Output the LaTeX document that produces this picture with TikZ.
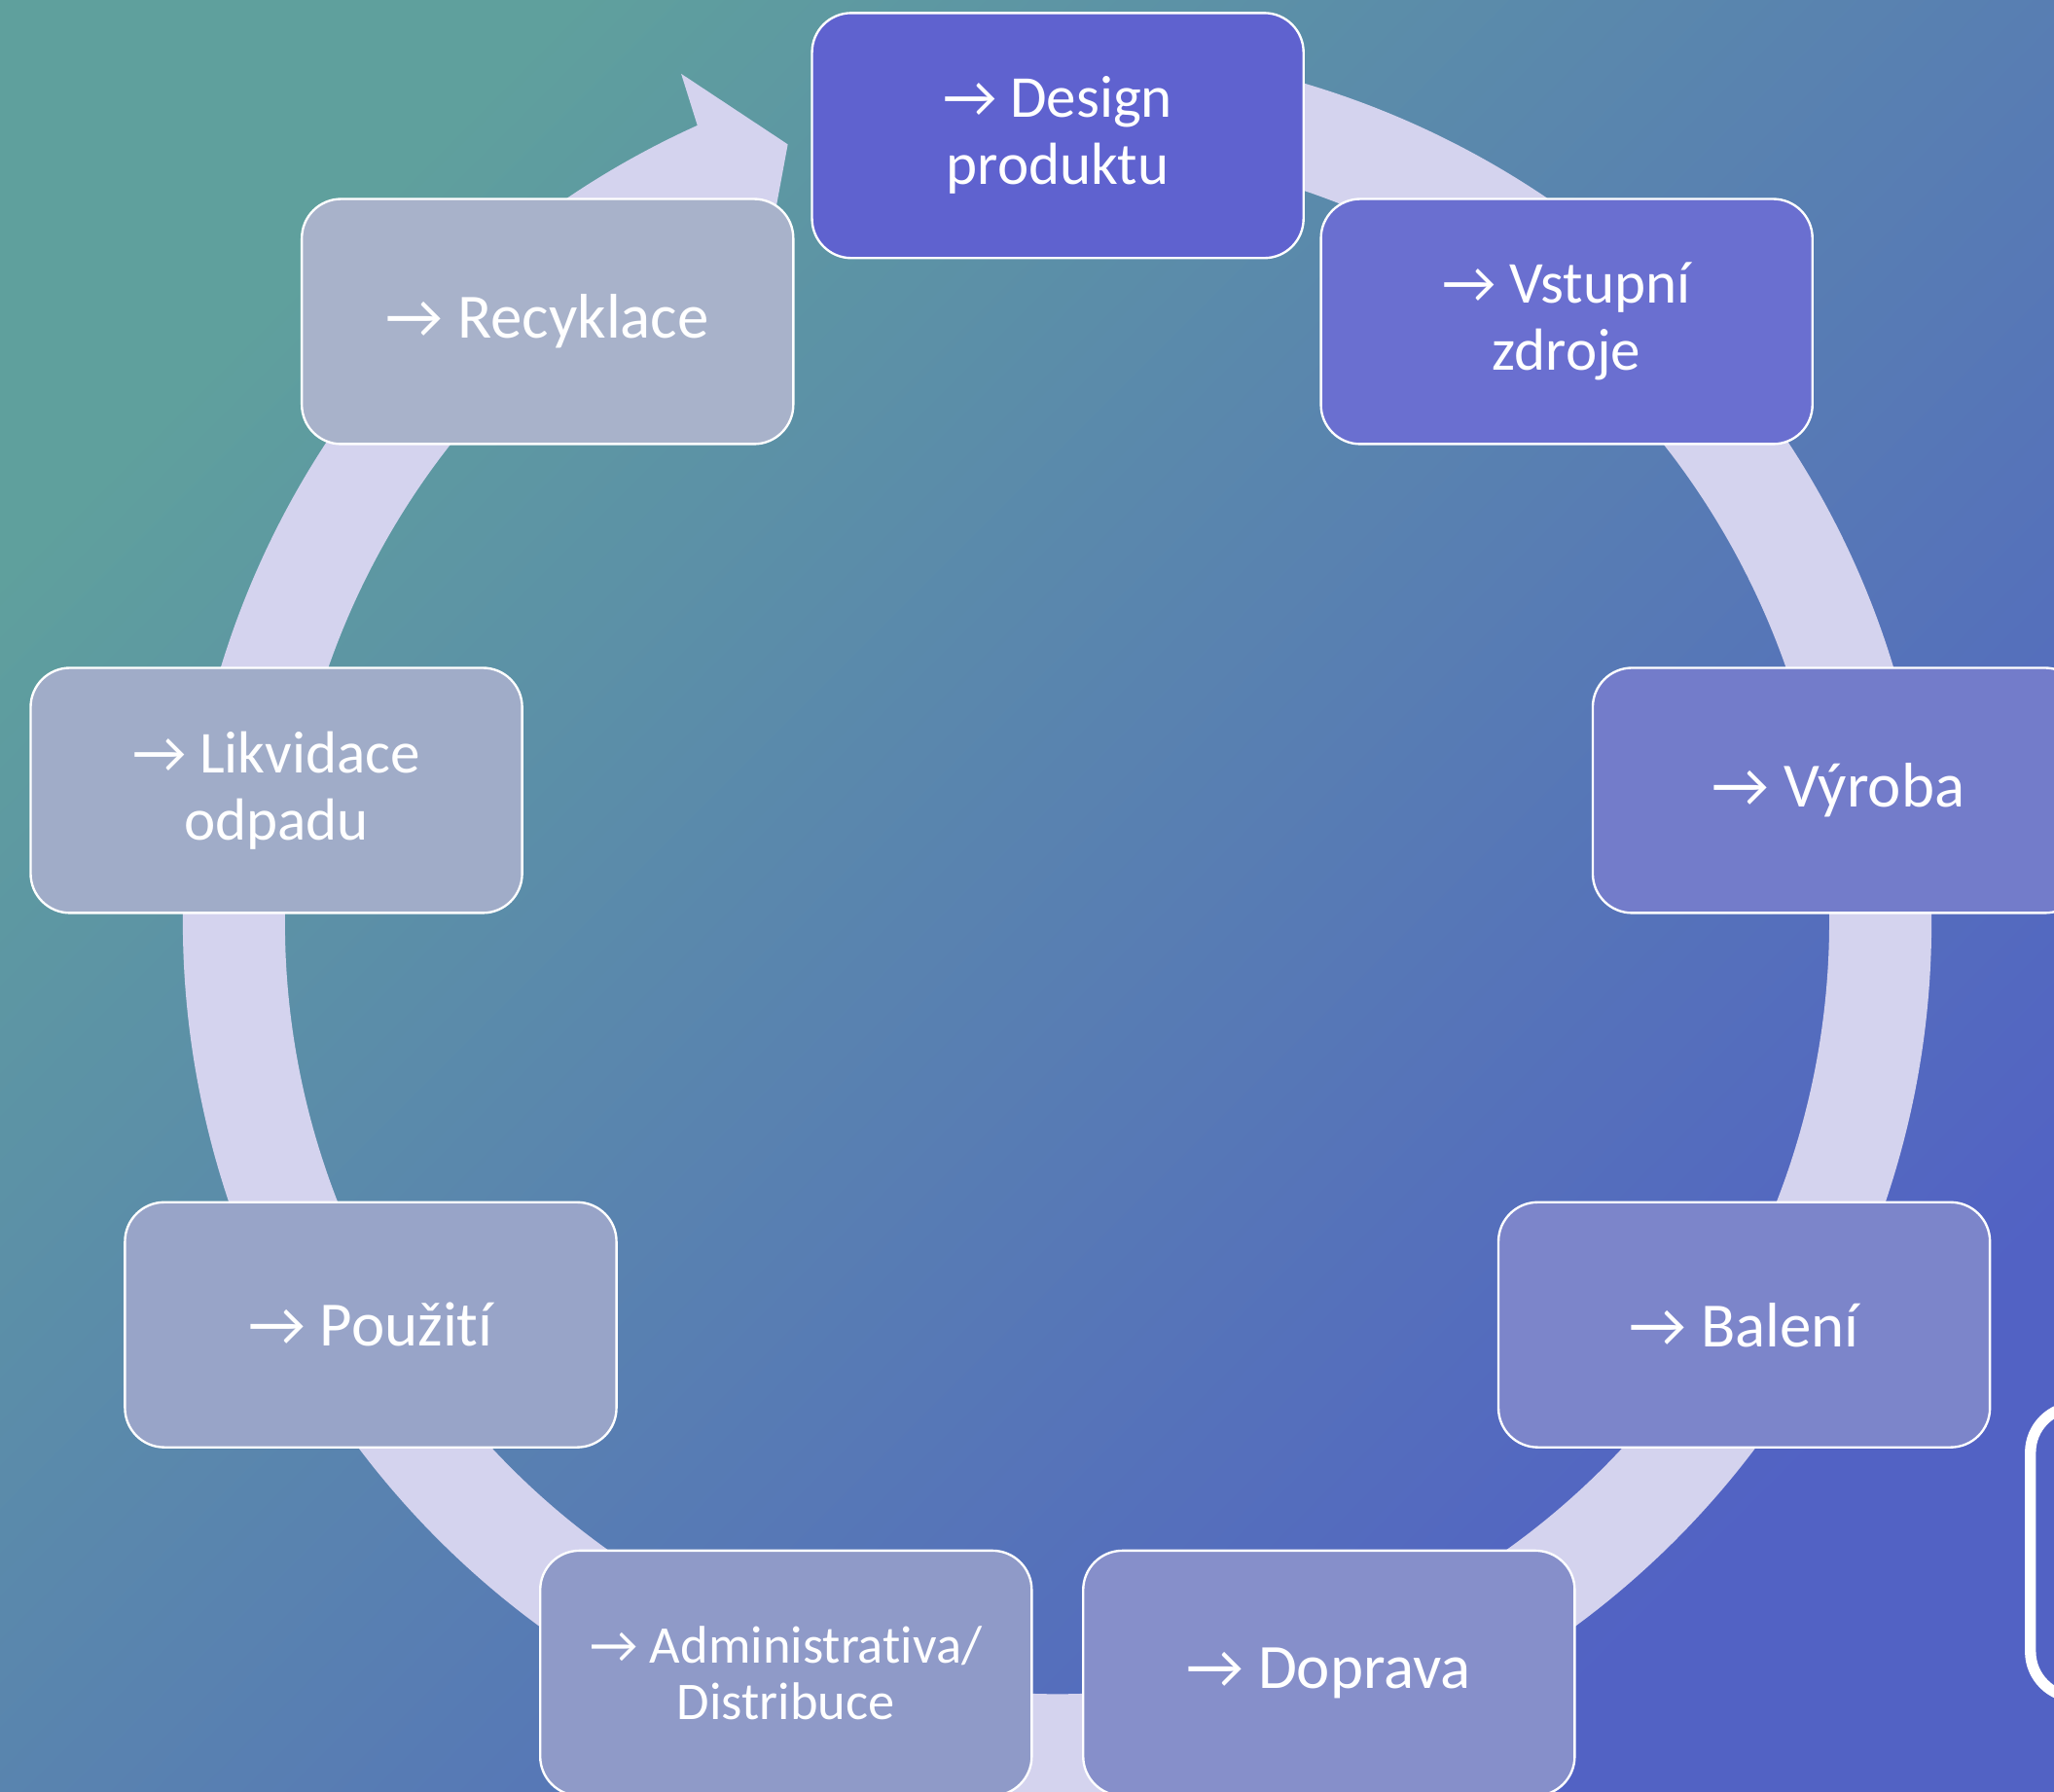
\documentclass[tikz,border=0pt]{standalone}
\usepackage{fontspec}
\setmainfont{Carlito}[Ligatures=NoCommon]
\definecolor{ringc}{HTML}{D4D3EE}
\definecolor{cA}{HTML}{5F62CF}
\definecolor{cB}{HTML}{6A6FD0}
\definecolor{cC}{HTML}{737CCA}
\definecolor{cD}{HTML}{7C85CA}
\definecolor{cE}{HTML}{868FCA}
\definecolor{cF}{HTML}{8F9AC8}
\definecolor{cG}{HTML}{98A4C8}
\definecolor{cH}{HTML}{A0ACC8}
\definecolor{cI}{HTML}{A8B2CA}
\definecolor{bgUL}{HTML}{5FA09D}
\definecolor{bgMid}{HTML}{6087B8}
\definecolor{bgLR}{HTML}{5262C4}
\tikzset{
  stage/.style={rectangle, rounded corners=0.3cm, draw=white, line width=0.5pt,
    minimum width=3.75cm, minimum height=1.87cm, text=white, align=center,
    inner sep=0pt},
  big/.style={font=\fontsize{13.7pt}{15.5pt}\selectfont},
  two/.style={font=\fontsize{12.9pt}{14.6pt}\selectfont},
  small/.style={font=\fontsize{11.5pt}{12.3pt}\selectfont}
}
\begin{document}
\begin{tikzpicture}[x=0.01cm,y=0.01cm]
\useasboundingbox (0,0) rectangle (1568,1368);
\clip (0,0) rectangle (1568,1368);
\shade[top color=bgUL, middle color=bgMid, bottom color=bgLR, shading angle=45] (0,0) rectangle (1568,1368);
% ring arrow
\begin{scope}[shift={(807,664)}]
\fill[ringc] (100:6.67cm) arc[start angle=100, end angle=-245.7, radius=6.67cm]
  -- (-246.1:7.08cm) -- (-250.9:6.28cm) -- (-246.1:5.49cm) -- (-245.7:5.89cm)
  arc[start angle=-245.7, end angle=100, radius=5.89cm] -- cycle;
\end{scope}
% partial shape at right edge
\draw[white, line width=2.4pt, rounded corners=0.35cm] (1550,72) rectangle (1760,294);
% stages
\node[stage, two, fill=cA] (design) at (807.5,1264.5) {→ Design\\produktu};
\node[stage, two, fill=cB] (vstup) at (1196,1122.5) {→ Vstupní\\zdroje};
\node[stage, big, fill=cC] (vyroba) at (1403.5,764.5) {→ Výroba};
\node[stage, big, fill=cD] (baleni) at (1331.5,356.5) {→ Balení};
\node[stage, big, fill=cE] (doprava) at (1014.5,90.5) {→ Doprava};
\node[stage, small, fill=cF] (admin) at (600,90.5) {→ Administrativa/\\Distribuce};
\node[stage, big, fill=cG] (pouziti) at (283,356.5) {→ Použití};
\node[stage, two, fill=cH] (likvidace) at (211,764.5) {→ Likvidace\\odpadu};
\node[stage, big, fill=cI] (recyklace) at (418,1122.5) {→ Recyklace};
\end{tikzpicture}
\end{document}
